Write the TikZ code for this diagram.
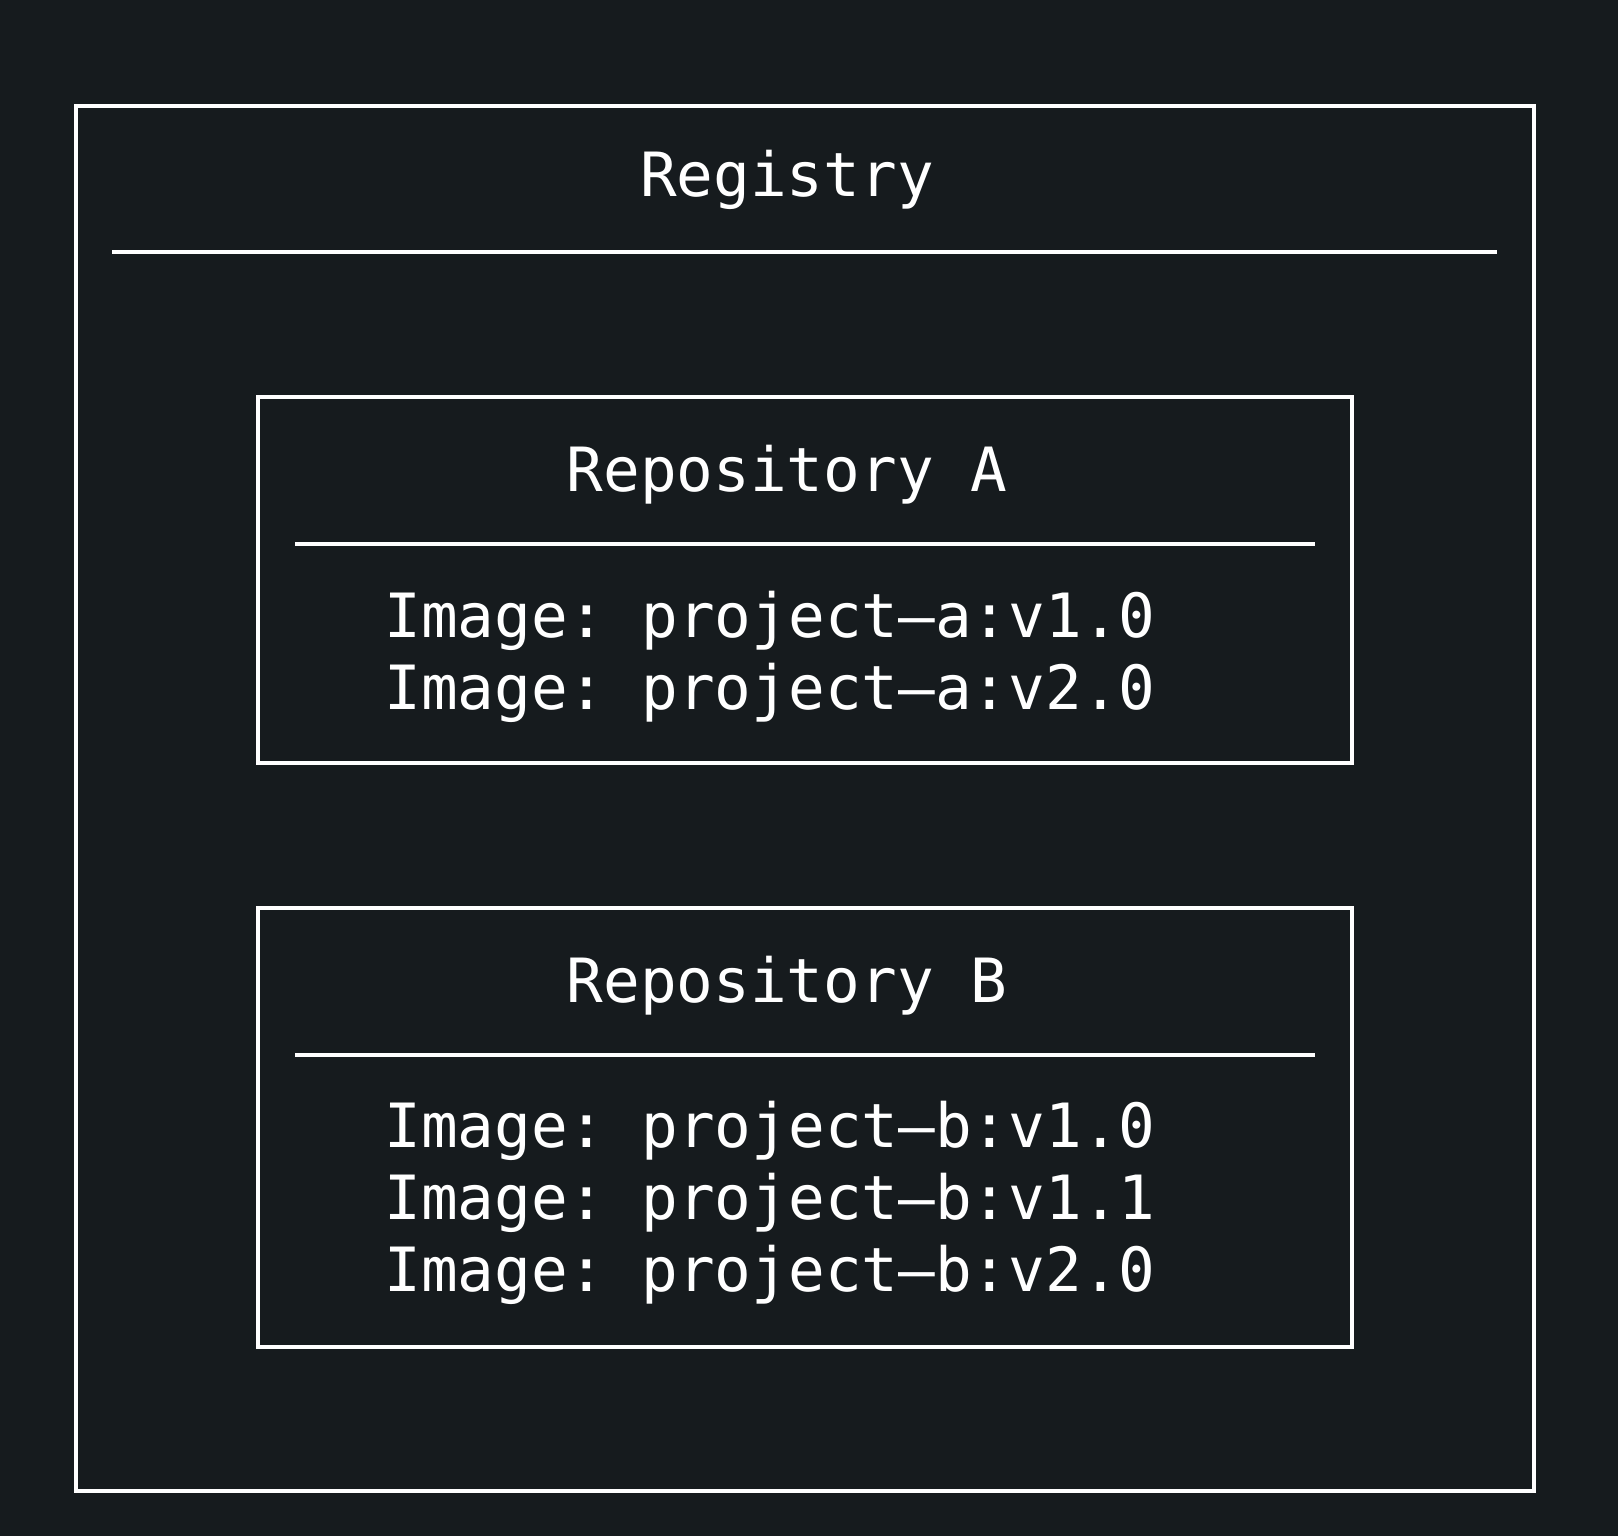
\documentclass[tikz,border=0pt]{standalone}
\usepackage{fontspec}
\setmonofont{DejaVu Sans Mono}
\definecolor{bg}{RGB}{22,27,30}

\begin{document}
\begin{tikzpicture}[x = 0.5pt, y = -0.5pt, line width = 1.6pt,
  box/.style = {draw = white},
  txt/.style = {text = white, inner sep = 0, anchor = base, font = \ttfamily\fontsize{30.5}{36}\selectfont}]
\fill [bg] (0,0) rectangle (1618,1536);
\useasboundingbox (0,0) rectangle (1618,1536);
% registry
\draw [box] (76,106) rectangle (1534,1491);
\node [txt] (registry) at (787,197) {Registry};
\draw [box] (112,252) -- (1497,252);
% repository a
\draw [box] (258,397) rectangle (1352,763);
\node [txt] (repoA) at (787,491) {Repository A};
\draw [box] (295,544) -- (1315,544);
\node [txt] (imgA1) at (770,637) {Image: project–a:v1.0};
\node [txt] (imgA2) at (770,709) {Image: project–a:v2.0};
% repository b
\draw [box] (258,908) rectangle (1352,1347);
\node [txt] (repoB) at (787,1002) {Repository B};
\draw [box] (295,1055) -- (1315,1055);
\node [txt] (imgB1) at (770,1147) {Image: project–b:v1.0};
\node [txt] (imgB2) at (770,1219) {Image: project–b:v1.1};
\node [txt] (imgB3) at (770,1291) {Image: project–b:v2.0};
\end{tikzpicture}
\end{document}
